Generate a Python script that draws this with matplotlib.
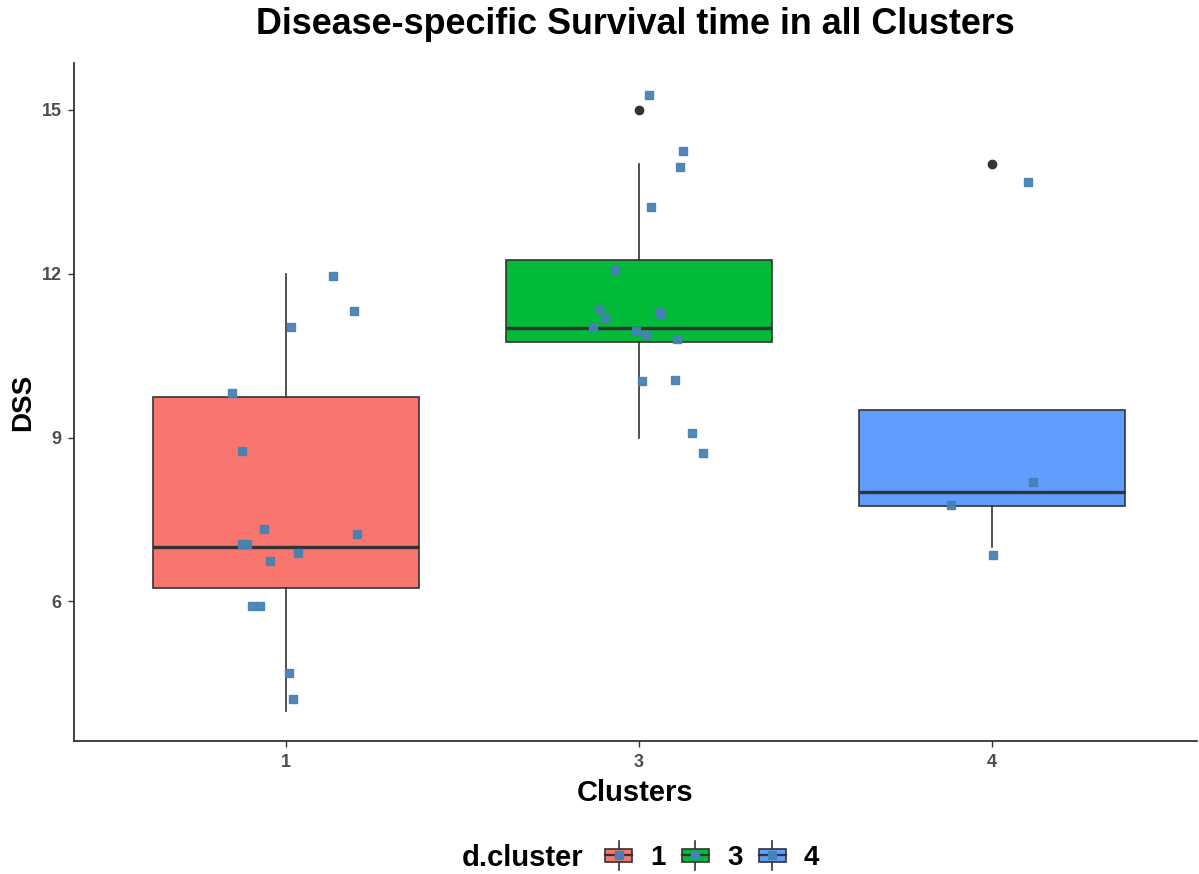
import numpy as np
import matplotlib
matplotlib.use("Agg")
import matplotlib.pyplot as plt
from matplotlib.patches import Rectangle
from matplotlib.lines import Line2D
from matplotlib.legend_handler import HandlerBase

plt.rcParams['font.family'] = ['Liberation Sans', 'DejaVu Sans']

#---------------------------------------------------
#-----------------------data------------------------
#---------------------------------------------------
clusters = ['1', '3', '4']
box_colors = ['#F8766D', '#00BA38', '#619CFF']

# box statistics per cluster
q1 = [6.25, 10.75, 7.75]
med = [7.0, 11.0, 8.0]
q3 = [9.75, 12.25, 9.5]
whis_lo = [4.0, 9.0, 7.0]
whis_hi = [12.0, 14.0, 9.5]
outliers = [[], [15.0], [14.0]]

# jittered observations: x offset from cluster centre, DSS value
c1_dx = [0.133, 0.194, 0.015, -0.152, -0.123, -0.062, 0.202, -0.123, -0.110,
         0.035, -0.044, -0.096, -0.073, 0.010, 0.020]
c1_dss = [11.95, 11.32, 11.02, 9.81, 8.76, 7.32, 7.24, 7.05, 7.05,
          6.88, 6.73, 5.92, 5.92, 4.68, 4.21]

c3_dx = [0.029, 0.125, 0.116, 0.034, -0.068, -0.113, 0.058, 0.062, -0.096,
         -0.131, -0.009, 0.021, 0.108, 0.008, 0.103, 0.151, 0.181]
c3_dss = [15.28, 14.25, 13.95, 13.22, 12.06, 11.36, 11.29, 11.27, 11.19,
          11.02, 10.96, 10.88, 10.80, 10.04, 10.05, 9.09, 8.72]

c4_dx = [0.103, 0.117, -0.115, 0.002]
c4_dss = [13.68, 8.19, 7.77, 6.85]

point_dx = [c1_dx, c3_dx, c4_dx]
point_dss = [c1_dss, c3_dss, c4_dss]

EDGE = '#333333'
POINT = '#4682B4'
TICK_COL = '#4D4D4D'


class BoxKeyHandler(HandlerBase):
    """legend key: small boxplot glyph with a point in the middle"""
    def create_artists(self, legend, orig_handle, xdescent, ydescent,
                       width, height, fontsize, trans):
        x0, y0 = -xdescent, -ydescent
        cx = x0 + width / 2
        bh = height * 0.65
        by = y0 + (height - bh) / 2
        arts = [
            Line2D([cx, cx], [y0 - height * 0.22, by], color=EDGE, lw=1.2),
            Line2D([cx, cx], [by + bh, y0 + height * 1.22], color=EDGE, lw=1.2),
            Rectangle((x0, by), width, bh, facecolor=orig_handle.get_facecolor(),
                      edgecolor=EDGE, lw=1.2),
            Line2D([x0, x0 + width], [y0 + height / 2] * 2, color=EDGE, lw=1.6),
            Line2D([cx], [y0 + height / 2], marker='s', color=POINT,
                   markersize=6, linestyle='none'),
        ]
        for a in arts:
            a.set_transform(trans)
        return arts


def main():
    fig = plt.figure(figsize=(11.99, 8.74), dpi=100)
    ax = fig.add_axes([0.0617, 0.152, 0.9363, 0.776])

    positions = np.arange(1, len(clusters) + 1)
    stats = []
    for i in range(len(clusters)):
        stats.append(dict(q1=q1[i], med=med[i], q3=q3[i], whislo=whis_lo[i],
                          whishi=whis_hi[i], fliers=outliers[i], label=clusters[i]))

    bp = ax.bxp(stats, positions=positions, widths=0.755, patch_artist=True,
                showcaps=False,
                boxprops=dict(edgecolor=EDGE, linewidth=1.2),
                medianprops=dict(color=EDGE, linewidth=2.4),
                whiskerprops=dict(color=EDGE, linewidth=1.2),
                flierprops=dict(marker='o', markerfacecolor=EDGE,
                                markeredgecolor=EDGE, markersize=6))
    for patch, col in zip(bp['boxes'], box_colors):
        patch.set_facecolor(col)

    # jittered points on top of the boxes
    for pos, dx, dss in zip(positions, point_dx, point_dss):
        ax.plot(pos + np.array(dx), dss, linestyle='none', marker='s',
                markersize=6, color=POINT, alpha=0.95, zorder=5)

    ax.set_xlim(0.4, 3.58)
    ax.set_ylim(3.44, 15.86)
    ax.set_yticks([6, 9, 12, 15])
    ax.set_xticks(positions)
    ax.set_xticklabels(clusters)

    for side in ['top', 'right']:
        ax.spines[side].set_visible(False)
    for side in ['left', 'bottom']:
        ax.spines[side].set_color(EDGE)
        ax.spines[side].set_linewidth(1.3)
    ax.tick_params(axis='both', length=4, width=1.0, color=EDGE,
                   labelcolor=TICK_COL, labelsize=13, pad=5)
    for lbl in ax.get_xticklabels() + ax.get_yticklabels():
        lbl.set_fontweight('bold')

    ax.set_xlabel('Clusters', fontsize=21, fontweight='bold', labelpad=6)
    ax.set_ylabel('DSS', fontsize=20, fontweight='bold', labelpad=4)
    ax.set_title('Disease-specific Survival time in all Clusters',
                 fontsize=25.8, fontweight='bold', pad=20.5)

    #-----------LEGEND-------------------
    fig.text(583 / 1199, 1 - 858 / 874, 'd.cluster', fontsize=21,
             fontweight='bold', ha='right', va='center')
    handles = [Rectangle((0, 0), 1, 1, facecolor=c) for c in box_colors]
    fig.legend(handles, clusters, loc='center left',
               bbox_to_anchor=(605 / 1199, 1 - 858 / 874), ncol=3,
               frameon=False, handler_map={h: BoxKeyHandler() for h in handles},
               prop=dict(size=20, weight='bold'), handlelength=0.98,
               handleheight=0.75, handletextpad=0.65, columnspacing=0.58,
               borderpad=0, borderaxespad=0)

    plt.savefig('out.png', dpi=100)


if __name__ == "__main__":
    main()
